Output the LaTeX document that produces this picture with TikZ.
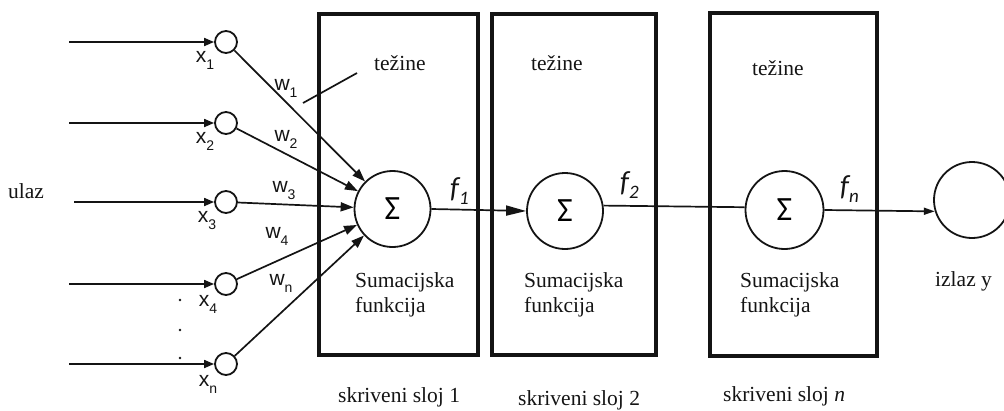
\documentclass[tikz,border=0pt]{standalone}
\usepackage{fontspec}
\setmainfont{Liberation Serif}
\newfontfamily\arialf{Liberation Sans}
\newfontfamily\calf{Carlito}
\usetikzlibrary{arrows.meta}
\newcommand\lsub[1]{\raisebox{-7pt}{\fontsize{14}{14}\selectfont #1}}
\newcommand\fsub[1]{\raisebox{-7pt}{\fontsize{19}{19}\selectfont #1}}
\definecolor{ink}{HTML}{141414}
\begin{document}
\begin{tikzpicture}[x=1pt,y=-1pt,
  inc/.style={circle,draw=ink,line width=1.8pt,minimum size=22pt,inner sep=0pt},
  sig/.style={circle,draw=ink,line width=1.8pt,minimum size=76pt,inner sep=0pt,
    font=\calf\fontsize{34}{34}\selectfont},
  layerbox/.style={rectangle,draw=ink,line width=3.2pt,inner sep=0pt},
  txt/.style={inner sep=0pt,text=ink,font=\fontsize{21.5}{24}\selectfont},
  lab/.style={inner sep=0pt,text=ink,font=\arialf\fontsize{21}{21}\selectfont},
  flab/.style={inner sep=0pt,text=ink,font=\calf\itshape\fontsize{29}{29}\selectfont},
  conn/.style={draw=ink,line width=1.7pt},
  inarr/.style={conn,-{Triangle[length=10pt,width=8pt]}},
  sarr/.style={conn,-{Triangle[length=13pt,width=9pt]}},
  farr/.style={conn,-{Triangle[length=20pt,width=10pt]}},
  oarr/.style={conn,-{Triangle[length=11pt,width=7pt]}}]
\useasboundingbox (0,0) rectangle (1004,410);

% layer boxes
\node[layerbox,minimum width=159pt,minimum height=341pt] (b1) at (398.5,184.5) {};
\node[layerbox,minimum width=164pt,minimum height=341pt] (b2) at (574,184.5) {};
\node[layerbox,minimum width=167pt,minimum height=343pt] (b3) at (793.5,184.5) {};

% input nodes
\node[inc] (i1) at (226,42) {};
\node[inc] (i2) at (226,123) {};
\node[inc] (i3) at (226,202) {};
\node[inc] (i4) at (226,284) {};
\node[inc] (i5) at (226,364) {};
\coordinate (c1) at (69,42);
\coordinate (c2) at (69,123);
\coordinate (c3) at (74,202);
\coordinate (c4) at (69,284);
\coordinate (c5) at (69,364);
\draw[inarr] (c1) -- (i1);
\draw[inarr] (c2) -- (i2);
\draw[inarr] (c3) -- (i3);
\draw[inarr] (c4) -- (i4);
\draw[inarr] (c5) -- (i5);

% dots
\fill[ink] (180,300) circle (1.4pt);
\fill[ink] (180,330) circle (1.4pt);
\fill[ink] (180,358) circle (1.4pt);

% summation nodes
\node[sig] (s1) at (392.5,209) {Σ};
\node[sig] (s2) at (565,211) {Σ};
\node[sig,minimum size=78pt] (s3) at (784.5,210) {Σ};
\node[sig] (o) at (972,200) {};

\draw[sarr] (i1) -- (s1);
\draw[sarr] (i2) -- (s1);
\draw[sarr] (i3) -- (s1);
\draw[sarr] (i4) -- (s1);
\draw[sarr] (i5) -- (s1);

\draw[farr] (s1.east) -- (s2.west);
\draw[conn] (s2.8) -- (s3.176);
\draw[oarr] (s3.east) -- (o.197);

% pointer of "tezine"
\coordinate (p1) at (303,103);
\coordinate (p2) at (357,73);
\draw[conn] (p1) -- (p2);

% labels x, w
\node[lab] (x1) at (205,60) {x\lsub{1}};
\node[lab] (x2) at (205,141) {x\lsub{2}};
\node[lab] (x3) at (207,221) {x\lsub{3}};
\node[lab] (x4) at (208,304) {x\lsub{4}};
\node[lab] (xn) at (208,384) {x\lsub{n}};
\node[lab] (w1) at (286,88) {w\lsub{1}};
\node[lab] (w2) at (286,139) {w\lsub{2}};
\node[lab] (w3) at (284,191) {w\lsub{3}};
\node[lab] (w4) at (277,236) {w\lsub{4}};
\node[lab] (wn) at (281,283) {w\lsub{n}};

% f labels
\node[flab,anchor=base west] (f1) at (450,197) {f\fsub{1}};
\node[flab,anchor=base west] (f2) at (620,191) {f\fsub{2}};
\node[flab,anchor=base west] (fn) at (840,195) {f\fsub{n}};

% texts
\node[txt,anchor=base west] (ulaz) at (8,198) {ulaz};
\node[txt,anchor=base west] (t1) at (374,70) {težine};
\node[txt,anchor=base west] (t2) at (531,70) {težine};
\node[txt,anchor=base west] (t3) at (752,75) {težine};
\node[txt,anchor=base west] (su1) at (355,287) {Sumacijska};
\node[txt,anchor=base west] (fu1) at (355,312) {funkcija};
\node[txt,anchor=base west] (su2) at (524,287) {Sumacijska};
\node[txt,anchor=base west] (fu2) at (524,312) {funkcija};
\node[txt,anchor=base west] (su3) at (740,287) {Sumacijska};
\node[txt,anchor=base west] (fu3) at (740,312) {funkcija};
\node[txt,anchor=base west] (iz) at (935,286) {izlaz y};
\node[txt,anchor=base west] (k1) at (338,402) {skriveni sloj 1};
\node[txt,anchor=base west] (k2) at (518,405) {skriveni sloj 2};
\node[txt,anchor=base west] (kn) at (723,401) {skriveni sloj \textit{n}};
\end{tikzpicture}
\end{document}
